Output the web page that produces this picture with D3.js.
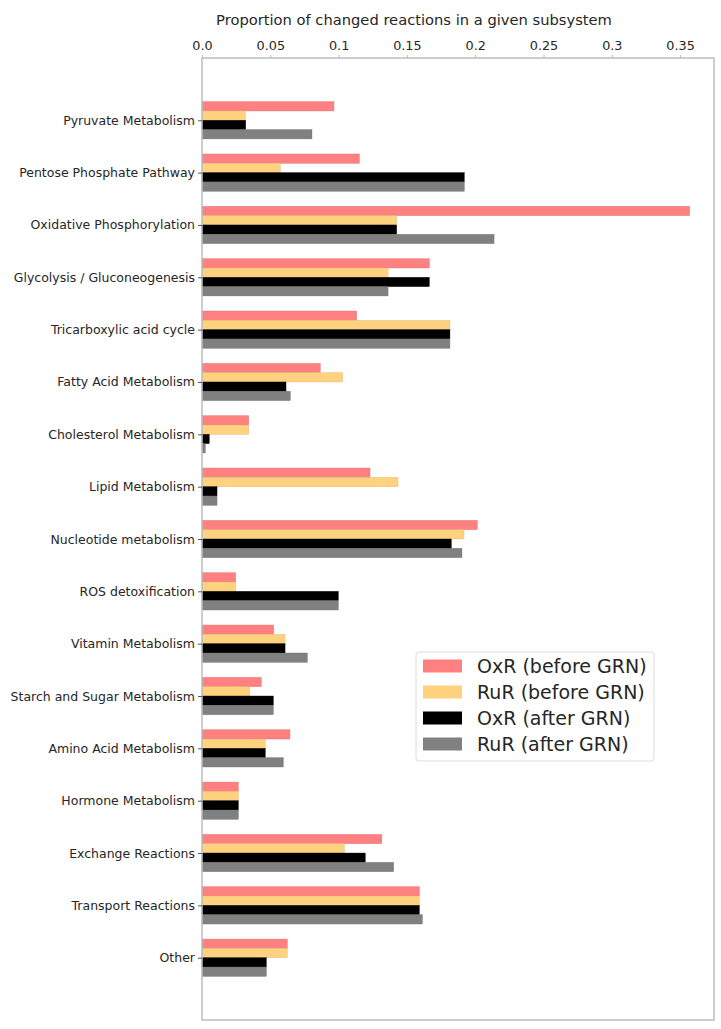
<!DOCTYPE html>
<html>
<head>
<meta charset="utf-8">
<script src="https://cdn.jsdelivr.net/npm/d3@7"></script>
<style>
  html, body { margin: 0; padding: 0; background: #fff; }
  svg { display: block; font-family: "DejaVu Sans", sans-serif; }
</style>
</head>
<body>
<svg id="chart" width="721" height="1029"></svg>
<script>
// ---- data ------------------------------------------------------------
var categories = [
    'Pyruvate Metabolism', 'Pentose Phosphate Pathway', 'Oxidative Phosphorylation',
    'Glycolysis / Gluconeogenesis', 'Tricarboxylic acid cycle', 'Fatty Acid Metabolism',
    'Cholesterol Metabolism', 'Lipid Metabolism', 'Nucleotide metabolism',
    'ROS detoxification', 'Vitamin Metabolism', 'Starch and Sugar Metabolism',
    'Amino Acid Metabolism', 'Hormone Metabolism', 'Exchange Reactions',
    'Transport Reactions', 'Other'
];

var seriesNames = ['OxR (before GRN)', 'RuR (before GRN)', 'OxR (after GRN)', 'RuR (after GRN)'];
var seriesColors = ['#ff8080', '#ffd280', '#000000', '#808080'];

var oxrBefore = [0.0966, 0.1152, 0.3570, 0.1664, 0.1132, 0.0866, 0.0342, 0.1230, 0.2015,
                 0.0247, 0.0525, 0.0434, 0.0644, 0.0266, 0.1316, 0.1591, 0.0624];
var rurBefore = [0.0317, 0.0573, 0.1425, 0.1362, 0.1815, 0.1030, 0.0342, 0.1435, 0.1918,
                 0.0247, 0.0608, 0.0349, 0.0463, 0.0266, 0.1042, 0.1591, 0.0624];
var oxrAfter  = [0.0320, 0.1920, 0.1425, 0.1664, 0.1815, 0.0615, 0.0053, 0.0110, 0.1825,
                 0.0998, 0.0608, 0.0522, 0.0463, 0.0266, 0.1195, 0.1591, 0.0471];
var rurAfter  = [0.0805, 0.1920, 0.2138, 0.1362, 0.1815, 0.0646, 0.0024, 0.0110, 0.1903,
                 0.0998, 0.0771, 0.0522, 0.0595, 0.0266, 0.1403, 0.1613, 0.0471];

var xTicks = [0, 0.05, 0.1, 0.15, 0.2, 0.25, 0.3, 0.35];
var xTickLabels = ['0.0', '0.05', '0.1', '0.15', '0.2', '0.25', '0.3', '0.35'];
var xTitle = 'Proportion of changed reactions in a given subsystem';

// ---- layout ----------------------------------------------------------
var plotLeft = 202, plotRight = 714, plotTop = 58, plotBottom = 1020;
var textColor = '#262626';
var spineColor = '#bdbdbd';

var svg = d3.select('#chart');

var x = d3.scaleLinear().domain([0, 0.3748]).range([plotLeft, plotRight]);
var y = d3.scalePoint().domain(categories).range([plotTop, plotBottom]).padding(1.19);
var barH = y.step() * 0.178;

var series = [oxrBefore, rurBefore, oxrAfter, rurAfter];

// bars: one group per series, stacked around the category centre
series.forEach(function (vals, s) {
    svg.append('g')
        .selectAll('rect')
        .data(vals)
        .join('rect')
        .attr('x', x(0))
        .attr('y', function (d, i) { return y(categories[i]) + (s - 2) * barH; })
        .attr('width', function (d) { return x(d) - x(0); })
        .attr('height', barH)
        .attr('fill', seriesColors[s])
        .attr('stroke', d3.color(seriesColors[s]).darker(0.4))
        .attr('stroke-width', 0.4);
});

// frame
svg.append('rect')
    .attr('x', plotLeft).attr('y', plotTop)
    .attr('width', plotRight - plotLeft).attr('height', plotBottom - plotTop)
    .attr('fill', 'none')
    .attr('stroke', spineColor)
    .attr('stroke-width', 1.5);

// top axis
var xAxis = d3.axisTop(x)
    .tickValues(xTicks)
    .tickFormat(function (d, i) { return xTickLabels[i]; })
    .tickSize(3)
    .tickPadding(5);
var gx = svg.append('g').attr('transform', 'translate(0,' + plotTop + ')').call(xAxis);
gx.select('.domain').remove();
gx.selectAll('.tick line').attr('stroke', spineColor);
gx.selectAll('.tick text')
    .attr('fill', textColor)
    .style('font-size', '12.8px')
    .style('font-family', '"DejaVu Sans", sans-serif');

svg.append('text')
    .attr('x', 414)
    .attr('y', 25)
    .attr('text-anchor', 'middle')
    .attr('fill', textColor)
    .style('font-size', '14.7px')
    .text(xTitle);

// left axis
var yAxis = d3.axisLeft(y).tickSize(4).tickPadding(3);
var gy = svg.append('g').attr('transform', 'translate(' + plotLeft + ',0)').call(yAxis);
gy.select('.domain').remove();
gy.selectAll('.tick line').attr('stroke', '#555');
gy.selectAll('.tick text')
    .attr('fill', textColor)
    .style('font-size', '12.5px')
    .style('font-family', '"DejaVu Sans", sans-serif');

// legend
var legend = svg.append('g').attr('transform', 'translate(416,652)');
legend.append('rect')
    .attr('width', 238).attr('height', 109)
    .attr('rx', 3)
    .attr('fill', 'rgba(255,255,255,0.8)')
    .attr('stroke', '#dcdcdc')
    .attr('stroke-width', 1);

var item = legend.selectAll('g.item')
    .data(seriesNames)
    .join('g')
    .attr('class', 'item')
    .attr('transform', function (d, i) { return 'translate(0,' + (14 + i * 26) + ')'; });

item.append('rect')
    .attr('x', 7).attr('y', -6.5)
    .attr('width', 39).attr('height', 13)
    .attr('fill', function (d, i) { return seriesColors[i]; });

item.append('text')
    .attr('x', 61)
    .attr('y', 0)
    .attr('dy', '0.35em')
    .attr('fill', textColor)
    .style('font-size', '19px')
    .text(function (d) { return d; });
</script>
</body>
</html>
